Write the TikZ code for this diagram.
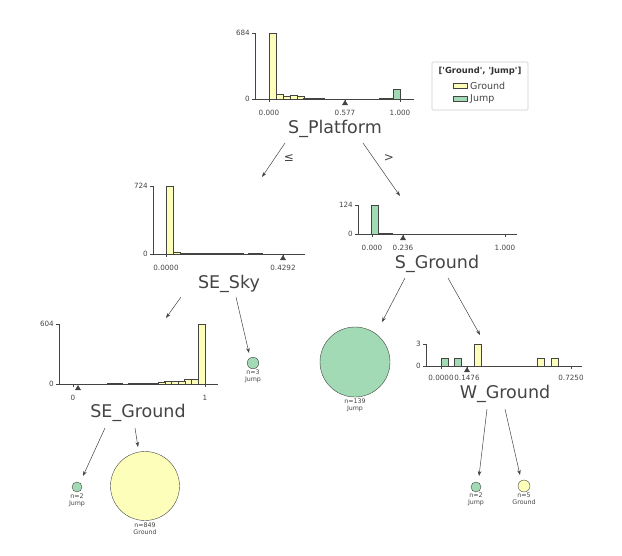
\documentclass[tikz,border=0pt]{standalone}
\usepackage{fontspec}
\setmainfont{DejaVu Sans}
\usetikzlibrary{arrows.meta}

\definecolor{groundc}{HTML}{FEFEBB}
\definecolor{jumpc}{HTML}{A1DAB4}
\definecolor{inkc}{HTML}{444443}
\definecolor{legc}{HTML}{CCCCCC}

\tikzset{
  groundbar/.style={fill=groundc,draw=inkc,line width=0.6pt},
  jumpbar/.style={fill=jumpc,draw=inkc,line width=0.6pt},
  axisline/.style={draw=inkc,line width=0.8pt},
  ticklbl/.style={font=\fontsize{7.2}{8}\selectfont,text=inkc,inner sep=1pt},
  splitlbl/.style={font=\fontsize{17.5}{20}\selectfont,text=inkc,inner sep=1pt},
  leaflbl/.style={font=\fontsize{6.3}{7.6}\selectfont,text=inkc,align=center,inner sep=0.5pt},
  edgelbl/.style={font=\fontsize{12}{14}\selectfont,text=inkc,inner sep=1pt},
  legtitle/.style={font=\bfseries\fontsize{8.4}{10}\selectfont,text=black!80,inner sep=1pt},
  leglbl/.style={font=\fontsize{9.5}{11}\selectfont,text=inkc,inner sep=1pt},
  branch/.style={draw=inkc,line width=0.5pt,-{Stealth[length=5pt,width=3.6pt]}},
  splitmark/.style={fill=inkc},
  leafdot/.style={circle,draw=inkc,line width=0.4pt,inner sep=0pt},
}

\begin{document}
\begin{tikzpicture}[x=1pt,y=-1pt]
\useasboundingbox (0,0) rectangle (622,555);

% legend
\draw[legc,line width=0.6pt,rounded corners=1pt] (432,62) rectangle (528,110);
\node[legtitle] (legtitle) at (480,71) {[\textquotesingle Ground\textquotesingle, \textquotesingle Jump\textquotesingle]};
\draw[groundbar,line width=0.4pt] (453,83) rectangle (467,88);
\node[leglbl,anchor=west] (legground) at (469,86) {Ground};
\draw[jumpbar,line width=0.4pt] (453,96) rectangle (467,101);
\node[leglbl,anchor=west] (legjump) at (469,99) {Jump};

% root: S_Platform
\foreach \a/\h in {269/66,276/5,283/3,290/4,297/3,303/1,310/1,317/1}
  \draw[groundbar] (\a,99) rectangle ++(7,-\h);
\foreach \a/\h in {379/1,386/1,393/10}
  \draw[jumpbar] (\a,99) rectangle ++(7,-\h);
\draw[axisline] (255,33) -- (255,99) -- (414,99);
\foreach \y/\t in {33/684,99/0} {
  \draw[axisline] (255,\y) -- (252,\y);
  \node[ticklbl,anchor=east] (rooty\t) at (251,\y) {\t};
}
\foreach \x/\t in {269/0.000,345/0.577,400/1.000} {
  \draw[axisline] (\x,99) -- (\x,102);
  \node[ticklbl] (rootx\x) at (\x,113) {\t};
}
\fill[splitmark] (345,100) -- (342,105) -- (348,105) -- cycle;
\node[splitlbl] (platform) at (335,129) {S\_Platform};

% SE_Sky
\draw[groundbar] (166,254) rectangle ++(7,-68);
\draw[groundbar] (173,254) rectangle (180,252);
\foreach \a/\b in {180/243,248/262}
  \draw[groundbar] (\a,254) rectangle (\b,253);
\draw[axisline] (153,186) -- (153,254) -- (305,254);
\foreach \y/\t in {186/724,254/0} {
  \draw[axisline] (153,\y) -- (150,\y);
  \node[ticklbl,anchor=east] (skyy\t) at (149,\y) {\t};
}
\foreach \x/\t in {166/0.0000,283/0.4292} {
  \draw[axisline] (\x,254) -- (\x,257);
  \node[ticklbl] (skyx\x) at (\x,268) {\t};
}
\fill[splitmark] (283,255) -- (280,260) -- (286,260) -- cycle;
\node[splitlbl] (sky) at (229,284) {SE\_Sky};

% S_Ground
\draw[jumpbar] (371,234) rectangle ++(7,-29);
\draw[groundbar] (378,234) rectangle (392,233);
\draw[axisline] (358,205) -- (358,234) -- (517,234);
\foreach \y/\t in {205/124,234/0} {
  \draw[axisline] (358,\y) -- (355,\y);
  \node[ticklbl,anchor=east] (sgroundy\t) at (354,\y) {\t};
}
\foreach \x/\t in {372/0.000,403/0.236,505/1.000} {
  \draw[axisline] (\x,234) -- (\x,237);
  \node[ticklbl] (sgroundx\x) at (\x,248) {\t};
}
\fill[splitmark] (403,235) -- (400,240) -- (406,240) -- cycle;
\node[splitlbl] (sground) at (437,264) {S\_Ground};

% SE_Ground
\foreach \a/\h in {198/60,191/5,184/5,178/3,171/3,164/3,158/2}
  \draw[groundbar] (\a,384) rectangle ++(7,-\h);
\foreach \a/\b in {128/158,107/122}
  \draw[groundbar] (\a,384) rectangle (\b,383);
\draw[axisline] (59,324) -- (59,384) -- (218,384);
\foreach \y/\t in {324/604,384/0} {
  \draw[axisline] (59,\y) -- (56,\y);
  \node[ticklbl,anchor=east] (segroundy\t) at (55,\y) {\t};
}
\foreach \x/\t in {73/0,205/1} {
  \draw[axisline] (\x,384) -- (\x,387);
  \node[ticklbl] (segroundx\x) at (\x,398) {\t};
}
\fill[splitmark] (78,385) -- (75,390) -- (81,390) -- cycle;
\node[splitlbl] (seground) at (138,413) {SE\_Ground};

% W_Ground
\foreach \a/\h in {441/8,454/8}
  \draw[jumpbar] (\a,366) rectangle ++(7,-\h);
\foreach \a/\h in {474/22,537/8,551/8}
  \draw[groundbar] (\a,366) rectangle ++(7,-\h);
\draw[axisline] (426,344) -- (426,366) -- (582,366);
\foreach \y/\t in {344/3,366/0} {
  \draw[axisline] (426,\y) -- (423,\y);
  \node[ticklbl,anchor=east] (wgroundy\t) at (422,\y) {\t};
}
\foreach \x/\t in {441/0.0000,467/0.1476,571/0.7250} {
  \draw[axisline] (\x,366) -- (\x,369);
  \node[ticklbl] (wgroundx\x) at (\x,378) {\t};
}
\fill[splitmark] (467,367) -- (464,372) -- (470,372) -- cycle;
\node[splitlbl] (wground) at (505,394) {W\_Ground};

% leaves
\node[leafdot,fill=jumpc,minimum size=11.5pt] (skyleaf) at (253,363) {};
\node[leaflbl,anchor=north] (skyleaftxt) at (253,369) {n=3\\Jump};
\node[leafdot,fill=jumpc,minimum size=70pt] (sgroundleaf) at (355,362) {};
\node[leaflbl,anchor=north] (sgroundleaftxt) at (355,398) {n=139\\Jump};
\node[leafdot,fill=jumpc,minimum size=10pt] (segroundleafa) at (77,487) {};
\node[leaflbl,anchor=north] (segroundleafatxt) at (77,493) {n=2\\Jump};
\node[leafdot,fill=groundc,minimum size=69pt] (segroundleafb) at (145,486) {};
\node[leaflbl,anchor=north] (segroundleafbtxt) at (145,522) {n=849\\Ground};
\node[leafdot,fill=jumpc,minimum size=10pt] (wgroundleafa) at (476,487) {};
\node[leaflbl,anchor=north] (wgroundleafatxt) at (476,492) {n=2\\Jump};
\node[leafdot,fill=groundc,minimum size=12pt] (wgroundleafb) at (524,486) {};
\node[leaflbl,anchor=north] (wgroundleafbtxt) at (524,492) {n=5\\Ground};

% arrow ends
\coordinate (skyin) at (262,177);
\coordinate (sgroundin) at (400,196);
\coordinate (segroundin) at (166,318);
\coordinate (skyleafin) at (249,353);
\coordinate (sgroundleafin) at (382,322);
\coordinate (wgroundin) at (480,335);
\coordinate (segroundleafain) at (83,476);
\coordinate (segroundleafbin) at (138,447);
\coordinate (wgroundleafain) at (479,476);
\coordinate (wgroundleafbin) at (520,475);

% edges
\draw[branch] ([shift={(-50,14)}]platform.center) -- (skyin);
\draw[branch] ([shift={(28,14)}]platform.center) -- (sgroundin);
\node[edgelbl] (le) at (289,158) {≤};
\node[edgelbl] (gt) at (389,158) {>};
\draw[branch] ([shift={(-48,13)}]sky.center) -- (segroundin);
\draw[branch] ([shift={(7,13)}]sky.center) -- (skyleafin);
\draw[branch] ([shift={(-32,14)}]sground.center) -- (sgroundleafin);
\draw[branch] ([shift={(11,14)}]sground.center) -- (wgroundin);
\draw[branch] ([shift={(-33,15)}]seground.center) -- (segroundleafain);
\draw[branch] ([shift={(-3,15)}]seground.center) -- (segroundleafbin);
\draw[branch] ([shift={(-18,15)}]wground.center) -- (wgroundleafain);
\draw[branch] ([shift={(0,15)}]wground.center) -- (wgroundleafbin);
\end{tikzpicture}
\end{document}
